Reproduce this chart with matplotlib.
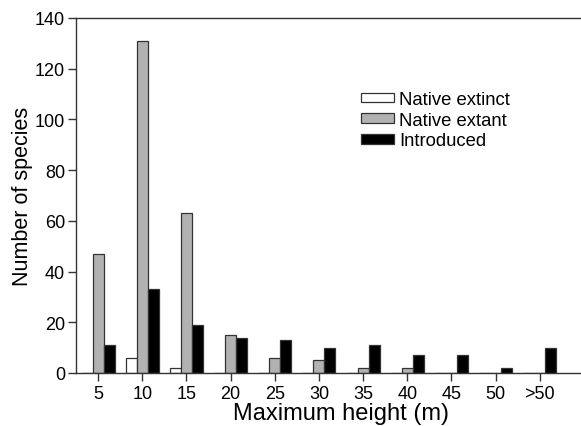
import numpy as np
import matplotlib
matplotlib.use("Agg")
import matplotlib.pyplot as plt

plt.rcParams["font.family"] = ["Liberation Sans", "DejaVu Sans"]

CATEGORIES = ["5", "10", "15", "20", "25", "30", "35", "40", "45", "50", ">50"]
NATIVE_EXTINCT = [0, 6, 2, 0, 0, 0, 0, 0, 0, 0, 0]
NATIVE_EXTANT = [47, 131, 63, 15, 6, 5, 2, 2, 0, 0, 0]
INTRODUCED = [11, 33, 19, 14, 13, 10, 11, 7, 7, 2, 10]


def main():
    fig = plt.figure(figsize=(5.81, 4.27), dpi=100)
    # the original panel runs past the right edge of the picture
    ax = fig.add_axes([76 / 581, 1 - 374 / 427, 530 / 581, 355 / 427])

    x = np.arange(len(CATEGORIES))
    w = 0.25
    edge = "#333333"
    ax.bar(x - w, NATIVE_EXTINCT, w, color="white", edgecolor=edge, linewidth=0.9,
           label="Native extinct")
    ax.bar(x, NATIVE_EXTANT, w, color="#b2b2b2", edgecolor=edge, linewidth=0.9,
           label="Native extant")
    ax.bar(x + w, INTRODUCED, w, color="black", edgecolor=edge, linewidth=0.9,
           label="Introduced")

    ax.set_xlim(-0.5, 11.5)
    ax.set_ylim(0, 140)
    ax.set_yticks(range(0, 141, 20))
    ax.set_xticks(x)
    ax.set_xticklabels(CATEGORIES)

    ax.spines["right"].set_visible(False)
    for s in ["left", "bottom", "top"]:
        ax.spines[s].set_color(edge)
        ax.spines[s].set_linewidth(1.0)
    ax.tick_params(direction="out", length=6, width=1.0, color=edge,
                   labelsize=13, pad=2)
    ax.tick_params(axis="x", pad=3)

    ax.set_xlabel("Maximum height (m)", fontsize=17, labelpad=0)
    ax.set_ylabel("Number of species", fontsize=15.5, labelpad=1)

    ax.legend(loc="upper left", bbox_to_anchor=(278 / 530, 0.815), frameon=False,
              fontsize=13.3, handlelength=1.75, handleheight=0.45,
              handletextpad=0.3, labelspacing=0.2, borderaxespad=0)

    fig.savefig("out.png", dpi=100)
    plt.close(fig)


if __name__ == "__main__":
    main()
